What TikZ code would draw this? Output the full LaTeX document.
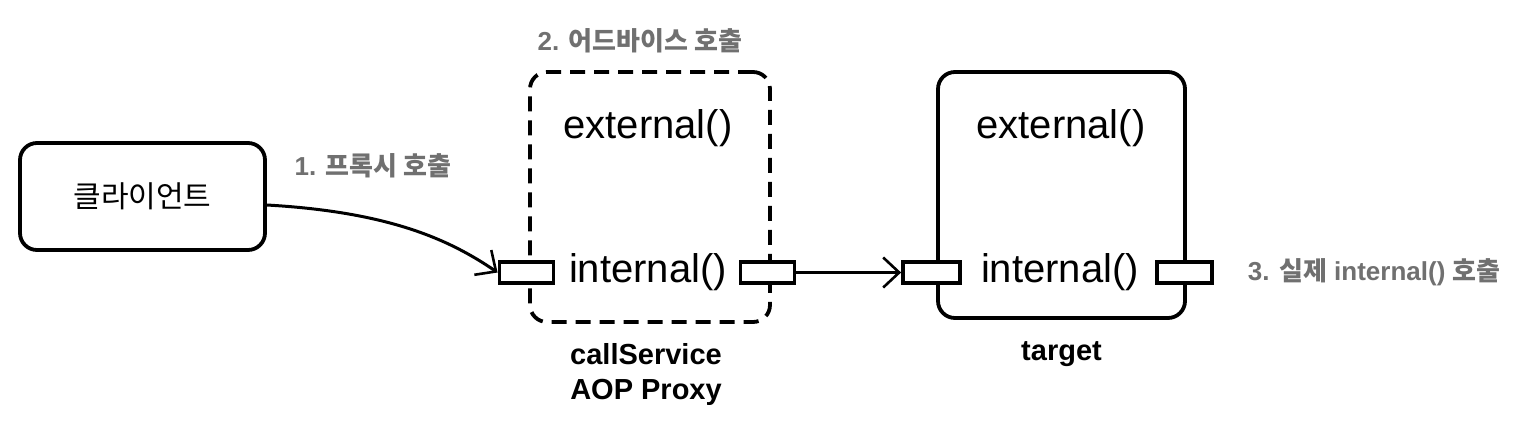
\documentclass[tikz,border=0pt]{standalone}
\usepackage{fontspec}
\setmainfont{Liberation Sans}
\newfontfamily\kr{Noto Sans CJK KR}
\usetikzlibrary{arrows.meta, positioning}

\definecolor{LabelGray}{RGB}{112,112,112}

\begin{document}
\begin{tikzpicture}[x=1pt, y=-1pt, line width=3.8pt,
	caja/.style={rectangle, draw=black, rounded corners=17pt, inner sep=0pt},
	proxycaja/.style={caja, dashed, dash pattern=on 15pt off 9pt},
	puerto/.style={rectangle, draw=black, fill=white, inner sep=0pt,
		minimum width=54pt, minimum height=21pt},
	metodo/.style={font=\fontsize{40}{44}\selectfont, inner sep=0pt},
	nombre/.style={font=\fontsize{29}{33}\selectfont\bfseries, inner sep=0pt, align=center},
	paso/.style={font=\fontsize{26}{30}\selectfont\bfseries, text=LabelGray, inner sep=0pt},
	fl/.style={-{Straight Barb[length=16pt, width=30pt, line width=2.6pt]}, line width=3pt}]

	\useasboundingbox (0,0) rectangle (1538,426);

	% cliente
	\node[caja, minimum width=245pt, minimum height=107pt] (cliente) at (142.5,196.5)
		{\kr\fontsize{30}{34}\selectfont 클라이언트};

	% proxy
	\node[proxycaja, minimum width=240pt, minimum height=250pt] (proxy) at (650,197) {};
	\node[metodo] (pext) at (648,128) {external()};
	\node[metodo] (pint) at (648,272) {internal()};
	\node[puerto] (pin) at (526.5,272.5) {};
	\node[puerto] (pout) at (767.5,272.5) {};
	\node[nombre, below=18pt of proxy, xshift=-4pt] (pnombre) {callService\\[2pt]AOP Proxy};

	% target
	\node[caja, minimum width=247pt, minimum height=246pt] (target) at (1061.5,195) {};
	\node[metodo] (text) at (1061,128) {external()};
	\node[metodo] (tint) at (1060,272) {internal()};
	\node[puerto, minimum width=57pt] (tin) at (931.5,272.5) {};
	\node[puerto, minimum width=55pt] (tout) at (1184.5,272.5) {};
	\node[nombre, below=20pt of target] (tnombre) {target};

	% pasos
	\node[paso] (p1) at (373,166) {1. {\kr 프록시 호출}};
	\node[paso] (p2) at (640,41) {2. {\kr 어드바이스 호출}};
	\node[paso, right=32pt of tout] (p3) {3. {\kr 실제} internal() {\kr 호출}};

	\draw[fl] (cliente.east |- 0,205) .. controls (390,212) and (450,240) .. (pin.west);
	\draw[fl] (pout) -- (tin);
\end{tikzpicture}
\end{document}
